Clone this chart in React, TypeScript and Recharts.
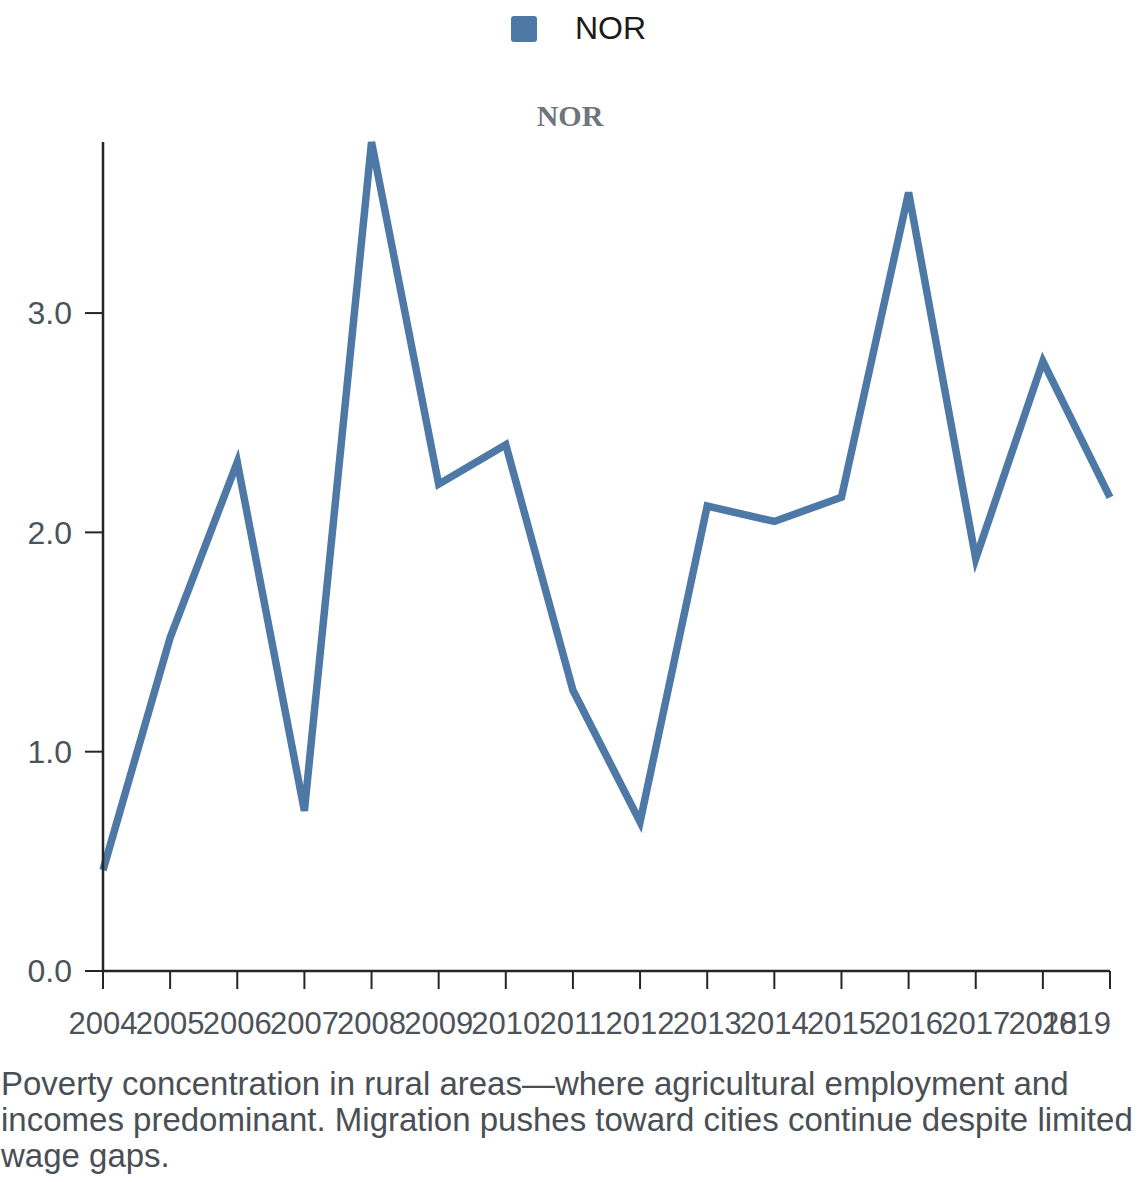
import React from "react";
import { LineChart, Line, XAxis, YAxis } from "recharts";

const years = [
  "2004", "2005", "2006", "2007", "2008", "2009", "2010", "2011",
  "2012", "2013", "2014", "2015", "2016", "2017", "2018", "2019",
];
const norValues = [
  0.46, 1.52, 2.32, 0.73, 3.78, 2.22, 2.4, 1.28,
  0.68, 2.12, 2.05, 2.16, 3.55, 1.88, 2.78, 2.16,
];
const yTicks = [0, 1, 2, 3];

const seriesName = "NOR";
const seriesColor = "#4e79a7";
const caption =
  "Poverty concentration in rural areas—where agricultural employment and incomes predominant. Migration pushes toward cities continue despite limited wage gaps.";

const data = years.map((year, i) => ({ year, value: norValues[i] }));

const FONT = '"Liberation Sans", Arial, sans-serif';
const TICK_COLOR = "#4d5259";
const AXIS_COLOR = "#262626";

function YearTick({ x, y, payload, index }: any) {
  const last = index === years.length - 1;
  return (
    <text
      x={last ? x + 1 : x}
      y={y}
      dy={45}
      textAnchor={last ? "end" : "middle"}
      fill={TICK_COLOR}
      style={{ fontSize: 31, fontFamily: FONT }}
    >
      {payload.value}
    </text>
  );
}

export default function App() {
  return (
    <div
      style={{
        position: "absolute",
        left: 0,
        top: 0,
        width: 1140,
        height: 1182,
        background: "#fff",
        fontFamily: FONT,
      }}
    >
      {/* legend */}
      <div
        style={{
          position: "absolute",
          top: 15,
          left: 511,
          display: "flex",
          alignItems: "center",
          height: 27,
        }}
      >
        <div
          style={{
            width: 26,
            height: 26,
            borderRadius: 3,
            background: seriesColor,
          }}
        />
        <span style={{ marginLeft: 38, fontSize: 32, color: "#1a1a1a" }}>
          {seriesName}
        </span>
      </div>

      {/* title */}
      <div
        style={{
          position: "absolute",
          top: 98,
          left: 0,
          width: 1140,
          textAlign: "center",
          fontFamily: '"Liberation Serif", "Times New Roman", serif',
          fontWeight: 700,
          fontSize: 30,
          color: "#6e757c",
          lineHeight: "36px",
        }}
      >
        {seriesName}
      </div>

      <div style={{ position: "absolute", top: 0, left: 0 }}>
        <LineChart
          width={1140}
          height={1050}
          data={data}
          margin={{ top: 142, right: 30, bottom: 0, left: 0 }}
        >
          <XAxis
            dataKey="year"
            interval={0}
            height={79}
            tickSize={18}
            tickMargin={0}
            tick={<YearTick />}
            axisLine={{ stroke: AXIS_COLOR, strokeWidth: 2.5 }}
            tickLine={{ stroke: AXIS_COLOR, strokeWidth: 2 }}
          />
          <YAxis
            width={103}
            domain={[0, "dataMax"]}
            ticks={yTicks}
            tickFormatter={(v: number) => v.toFixed(1)}
            tickSize={18}
            tickMargin={13}
            tick={{ fill: TICK_COLOR, fontSize: 32, fontFamily: FONT }}
            axisLine={{ stroke: AXIS_COLOR, strokeWidth: 2.5 }}
            tickLine={{ stroke: AXIS_COLOR, strokeWidth: 2 }}
          />
          <Line
            type="linear"
            dataKey="value"
            name={seriesName}
            stroke={seriesColor}
            strokeWidth={7.5}
            dot={false}
            activeDot={false}
            isAnimationActive={false}
          />
        </LineChart>
      </div>

      {/* caption */}
      <div
        style={{
          position: "absolute",
          top: 1066,
          left: 1,
          width: 1139,
          fontSize: 33,
          lineHeight: "36px",
          color: "#4a4f55",
        }}
      >
        {caption}
      </div>
    </div>
  );
}
